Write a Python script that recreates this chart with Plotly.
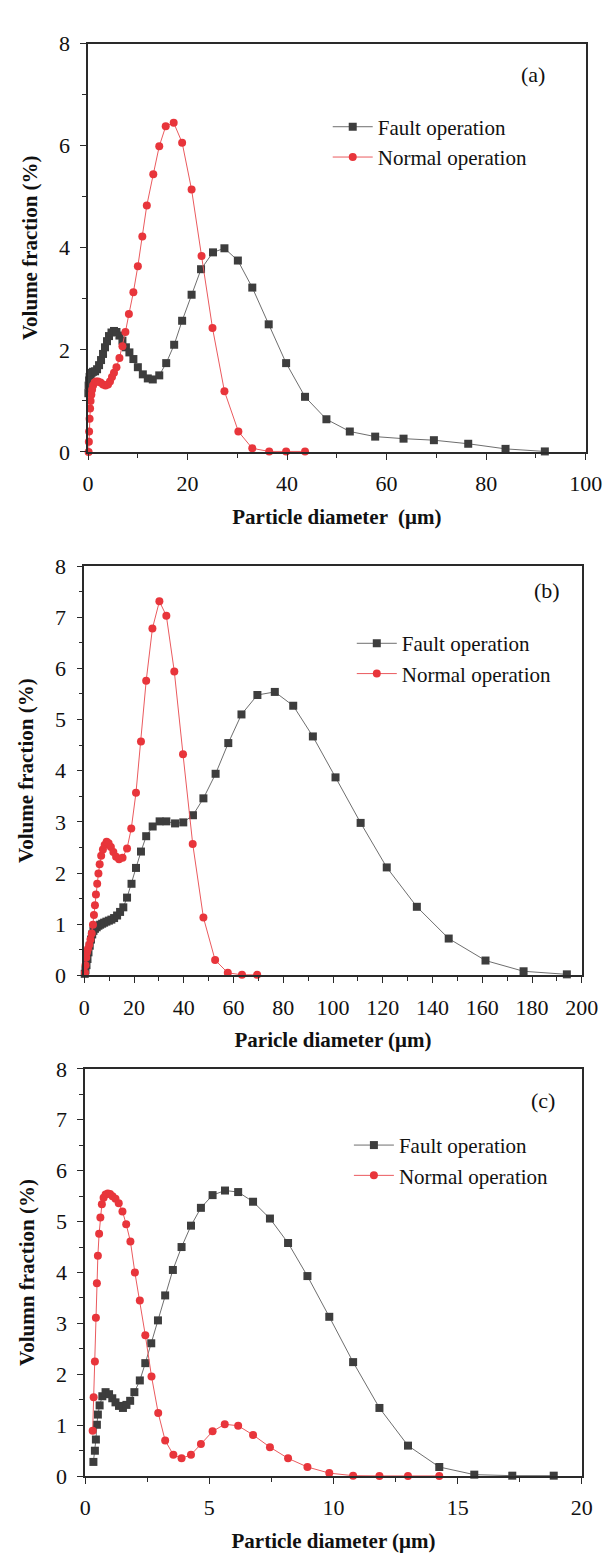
import plotly.graph_objects as go

# ---------------- data ----------------
# Panel (a)
a_fault_x = [0.05, 0.1, 0.2, 0.3, 0.5, 0.7, 1.0, 1.4, 1.8, 2.2, 2.6, 3.0, 3.4, 3.8, 4.2, 4.7, 5.2, 5.7, 6.3, 6.9, 7.6, 8.3, 9.1, 10.0, 11.0, 12.0, 13.0, 14.3, 15.7, 17.3, 18.9, 20.8, 22.7, 25.1, 27.4, 30.1, 33.0, 36.3, 39.8, 43.6, 47.9, 52.6, 57.7, 63.4, 69.5, 76.4, 83.9, 91.8]
a_fault_y = [1.15, 1.3, 1.4, 1.47, 1.52, 1.55, 1.57, 1.58, 1.62, 1.70, 1.80, 1.92, 2.05, 2.17, 2.27, 2.34, 2.37, 2.35, 2.28, 2.18, 2.05, 1.95, 1.82, 1.66, 1.52, 1.44, 1.42, 1.50, 1.74, 2.10, 2.57, 3.08, 3.58, 3.91, 3.99, 3.75, 3.22, 2.50, 1.74, 1.08, 0.64, 0.40, 0.30, 0.26, 0.23, 0.16, 0.06, 0.01]
a_norm_x = [0.1, 0.15, 0.2, 0.3, 0.4, 0.5, 0.65, 0.8, 1.0, 1.3, 1.6, 2.0, 2.5, 3.0, 3.5, 4.0, 4.4, 4.8, 5.2, 5.7, 6.3, 6.9, 7.5, 8.2, 9.1, 10.0, 10.9, 11.8, 13.1, 14.3, 15.6, 17.2, 18.9, 20.8, 22.8, 25.0, 27.4, 30.2, 33.0, 36.4, 39.8, 43.6]
a_norm_y = [0.0, 0.2, 0.4, 0.65, 0.85, 1.0, 1.12, 1.22, 1.30, 1.36, 1.38, 1.38, 1.36, 1.32, 1.30, 1.32, 1.38, 1.47, 1.55, 1.66, 1.84, 2.07, 2.35, 2.70, 3.13, 3.64, 4.22, 4.83, 5.44, 5.99, 6.38, 6.45, 6.06, 5.14, 3.84, 2.43, 1.19, 0.40, 0.07, 0.01, 0.01, 0.01]

# Panel (b)
b_fault_x = [0.2, 0.5, 0.9, 1.3, 1.7, 2.2, 2.7, 3.2, 3.7, 4.3, 5.0, 5.7, 6.4, 7.2, 8.0, 8.9, 9.9, 10.9, 12.0, 13.2, 14.4, 15.7, 17.2, 19.0, 20.8, 22.8, 24.9, 27.5, 30.3, 33.0, 36.5, 39.8, 43.7, 47.9, 52.8, 57.9, 63.2, 69.6, 76.6, 84.0, 91.9, 101.0, 111.1, 121.6, 133.7, 146.5, 161.3, 176.6, 194.0]
b_fault_y = [0.03, 0.1, 0.2, 0.32, 0.45, 0.58, 0.70, 0.80, 0.87, 0.91, 0.94, 0.97, 0.99, 1.01, 1.03, 1.05, 1.07, 1.09, 1.12, 1.17, 1.24, 1.33, 1.52, 1.79, 2.10, 2.42, 2.72, 2.91, 3.01, 3.01, 2.97, 2.99, 3.13, 3.46, 3.94, 4.54, 5.10, 5.48, 5.54, 5.27, 4.67, 3.87, 2.98, 2.11, 1.34, 0.72, 0.29, 0.08, 0.02]
b_norm_x = [0.3, 0.5, 0.8, 1.1, 1.5, 2.0, 2.5, 3.0, 3.5, 3.9, 4.3, 4.7, 5.2, 5.7, 6.2, 6.8, 7.5, 8.2, 9.0, 9.8, 10.7, 11.7, 12.8, 14.0, 15.4, 17.2, 18.9, 20.8, 22.8, 24.9, 27.4, 30.2, 33.0, 36.2, 39.7, 43.6, 47.9, 52.6, 57.7, 63.4, 69.5]
b_norm_y = [0.05, 0.2, 0.35, 0.45, 0.52, 0.60, 0.70, 0.82, 0.99, 1.18, 1.37, 1.58, 1.79, 1.99, 2.17, 2.34, 2.46, 2.55, 2.61, 2.58, 2.51, 2.41, 2.32, 2.27, 2.30, 2.48, 2.87, 3.57, 4.57, 5.76, 6.78, 7.31, 7.03, 5.94, 4.32, 2.57, 1.13, 0.30, 0.05, 0.01, 0.01]

# Panel (c)
c_fault_x = [0.33, 0.39, 0.43, 0.47, 0.51, 0.58, 0.69, 0.82, 0.96, 1.09, 1.22, 1.36, 1.52, 1.66, 1.81, 1.98, 2.2, 2.42, 2.66, 2.93, 3.22, 3.53, 3.88, 4.26, 4.66, 5.13, 5.63, 6.16, 6.76, 7.44, 8.17, 8.95, 9.83, 10.79, 11.85, 13.0, 14.26, 15.67, 17.2, 18.87]
c_fault_y = [0.28, 0.50, 0.72, 1.01, 1.21, 1.39, 1.57, 1.65, 1.61, 1.53, 1.45, 1.38, 1.34, 1.40, 1.48, 1.65, 1.88, 2.22, 2.61, 3.06, 3.55, 4.05, 4.50, 4.92, 5.27, 5.52, 5.61, 5.58, 5.39, 5.06, 4.58, 3.93, 3.13, 2.24, 1.34, 0.60, 0.18, 0.03, 0.01, 0.01]
c_norm_x = [0.30, 0.34, 0.39, 0.43, 0.47, 0.51, 0.56, 0.61, 0.67, 0.74, 0.82, 0.91, 1.0, 1.1, 1.22, 1.35, 1.5, 1.65, 1.82, 2.0, 2.2, 2.42, 2.67, 2.94, 3.22, 3.55, 3.88, 4.26, 4.66, 5.13, 5.62, 6.16, 6.76, 7.44, 8.17, 8.95, 9.83, 10.79, 11.85, 13.0, 14.26]
c_norm_y = [0.89, 1.55, 2.25, 3.11, 3.79, 4.33, 4.76, 5.08, 5.34, 5.47, 5.53, 5.55, 5.54, 5.50, 5.45, 5.36, 5.20, 4.95, 4.61, 4.00, 3.45, 2.77, 1.96, 1.24, 0.70, 0.42, 0.35, 0.42, 0.63, 0.88, 1.02, 0.99, 0.81, 0.57, 0.35, 0.18, 0.06, 0.01, 0.005, 0.005, 0.005]

panel_labels = ["(a)", "(b)", "(c)"]
x_titles = ["Particle diameter  (μm)", "Paricle diameter (μm)", "Particle diameter (μm)"]
y_titles = ["Volume fraction (%)", "Volume fraction (%)", "Volumn fraction (%)"]
series_names = ["Fault operation", "Normal operation"]

# ---------------- styling ----------------
W, H = 611, 1553
SERIF = "Liberation Serif, Times New Roman, serif"
FAULT_MK = "#3d3d3d"
FAULT_LN = "#6e6e6e"
NORM_MK = "#e8353b"
NORM_LN = "#ea5a5e"
AXC = "#2a2a2a"


def px_x(p):
    return p / W


def px_y(p):
    return 1 - p / H


# plot-area pixel boxes: (left, right, top, bottom)
boxes = [(77, 594, 24, 439), (73, 590, 555, 971), (74, 590, 1066, 1480)]
x_ranges = [[0, 100], [0, 200], [0, 20]]
x_dtick = [20, 20, 5]
y_dtick = [2, 1, 1]
label_pos = [(89.4, 7.4), (186, 7.52), (18.45, 7.38)]
legend_px = [(326, 88), (351, 613), (348, 1123)]

data_sets = [
    (a_fault_x, a_fault_y, a_norm_x, a_norm_y),
    (b_fault_x, b_fault_y, b_norm_x, b_norm_y),
    (c_fault_x, c_fault_y, c_norm_x, c_norm_y),
]

fig = go.Figure()
layout = dict(
    width=W, height=H,
    margin=dict(l=0, r=0, t=0, b=0),
    paper_bgcolor="white", plot_bgcolor="white",
    font=dict(family=SERIF, size=20, color="#111"),
    showlegend=True,
    annotations=[],
)

for i, (fx, fy, nx, ny) in enumerate(data_sets):
    n = i + 1
    xa = "x" if n == 1 else f"x{n}"
    ya = "y" if n == 1 else f"y{n}"
    lg = "legend" if n == 1 else f"legend{n}"
    fig.add_trace(go.Scatter(
        x=fx, y=fy, name=series_names[0], mode="lines+markers",
        line=dict(color=FAULT_LN, width=1),
        marker=dict(symbol="square", size=8, color=FAULT_MK),
        xaxis=xa, yaxis=ya, legend=lg, cliponaxis=False,
    ))
    fig.add_trace(go.Scatter(
        x=nx, y=ny, name=series_names[1], mode="lines+markers",
        line=dict(color=NORM_LN, width=1),
        marker=dict(symbol="circle", size=8, color=NORM_MK),
        xaxis=xa, yaxis=ya, legend=lg, cliponaxis=False,
    ))
    l, r, t, b = boxes[i]
    xkey = "xaxis" if n == 1 else f"xaxis{n}"
    ykey = "yaxis" if n == 1 else f"yaxis{n}"
    layout[xkey] = dict(
        domain=[px_x(l), px_x(r)], anchor=ya, range=x_ranges[i],
        dtick=x_dtick[i], tick0=0, ticks="outside", ticklen=6, tickwidth=1.2,
        tickcolor=AXC, showline=True, linecolor=AXC, linewidth=1.5, mirror=True,
        showgrid=False, zeroline=False, ticklabelstandoff=5,
        tickfont=dict(family=SERIF, size=22, color="#111"),
        minor=dict(ticks="outside", ticklen=4, tickcolor=AXC, dtick=x_dtick[i] / 2, tick0=0, showgrid=False),
        title=dict(text=x_titles[i], font=dict(family=SERIF, size=21, color="#111", weight="bold"), standoff=14),
    )
    layout[ykey] = dict(
        domain=[px_y(b), px_y(t)], anchor=xa, range=[0, 8],
        dtick=y_dtick[i], tick0=0, ticks="outside", ticklen=6, tickwidth=1.2,
        tickcolor=AXC, showline=True, linecolor=AXC, linewidth=1.5, mirror=True,
        showgrid=False, zeroline=False, ticklabelstandoff=6,
        tickfont=dict(family=SERIF, size=22, color="#111"),
        minor=dict(ticks="outside", ticklen=4, tickcolor=AXC, dtick=y_dtick[i] / 2, tick0=0, showgrid=False),
        title=dict(text=y_titles[i], font=dict(family=SERIF, size=21, color="#111", weight="bold"), standoff=16),
    )
    lx, ly = legend_px[i]
    layout[lg] = dict(
        x=px_x(lx), y=px_y(ly), xanchor="left", yanchor="top",
        bgcolor="rgba(0,0,0,0)", borderwidth=0,
        font=dict(family=SERIF, size=21, color="#111"),
        itemwidth=40, tracegroupgap=0,
    )
    layout["annotations"].append(dict(
        x=label_pos[i][0], y=label_pos[i][1], xref=xa, yref=ya,
        text=panel_labels[i], showarrow=False,
        font=dict(family=SERIF, size=22, color="#111"),
    ))

fig.update_layout(**layout)
fig.write_html("out.html")
